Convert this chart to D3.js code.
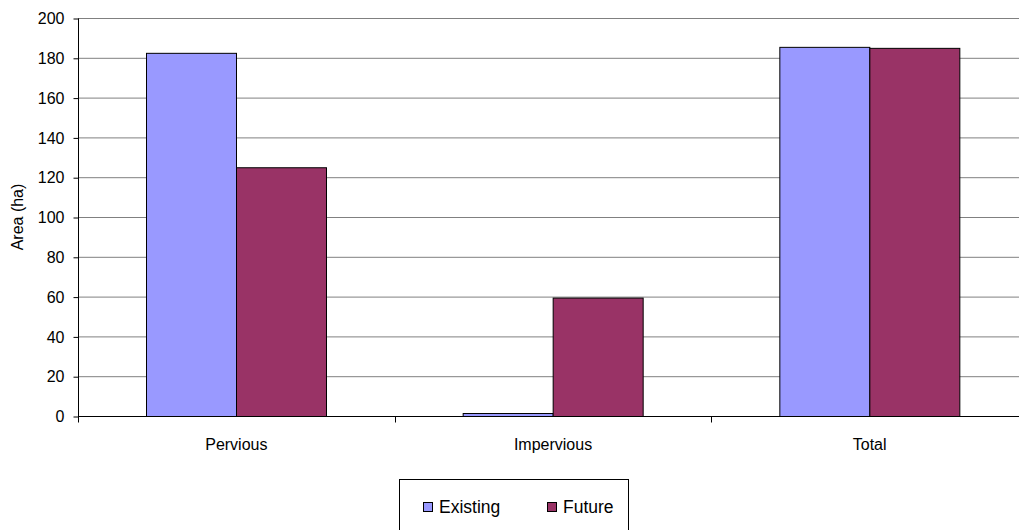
<!DOCTYPE html>
<html>
<head>
<meta charset="utf-8">
<script src="https://cdn.jsdelivr.net/npm/d3@7"></script>
<style>
  html, body { margin: 0; padding: 0; background: #fff; }
  svg { display: block; font-family: "Liberation Sans", Arial, sans-serif; }
</style>
</head>
<body>
<svg id="chart" width="1019" height="530"></svg>
<script>
// Land cover areas (ha)
const categories = ["Pervious", "Impervious", "Total"];
const seriesNames = ["Existing", "Future"];
const existing = [182.5, 1.5, 185.5];
const future = [125, 59.5, 185];
const yTicks = [0, 20, 40, 60, 80, 100, 120, 140, 160, 180, 200];
const colors = ["#9999FF", "#993366"];

const svg = d3.select("#chart");
const plotLeft = 78, plotTop = 18, plotRight = 1028, plotBottom = 416;
const fontFamily = "'Liberation Sans', Arial, sans-serif";

const x = d3.scaleBand().domain(categories).range([plotLeft, plotRight]).paddingInner(0).paddingOuter(0);
const xs = d3.scaleBand().domain(seriesNames).range([0, x.bandwidth()]).paddingInner(0).paddingOuter(0.76);
const y = d3.scaleLinear().domain([0, 200]).range([plotBottom, plotTop]);

// Horizontal gridlines
svg.append("g")
  .selectAll("line")
  .data(yTicks.filter(d => d > 0))
  .join("line")
  .attr("x1", plotLeft).attr("x2", plotRight)
  .attr("y1", d => y(d) + 0.5).attr("y2", d => y(d) + 0.5)
  .attr("stroke", "#808080").attr("stroke-width", 1);

// Bars
const rows = categories.map((c, i) => ({ cat: c, vals: [existing[i], future[i]] }));
svg.append("g")
  .selectAll("g")
  .data(rows)
  .join("g")
  .attr("transform", d => `translate(${x(d.cat)},0)`)
  .selectAll("rect")
  .data(d => d.vals.map((v, j) => ({ name: seriesNames[j], v, j })))
  .join("rect")
  .attr("x", d => Math.round(xs(d.name)) + 0.5)
  .attr("y", d => y(d.v) + 0.5)
  .attr("width", Math.round(xs.bandwidth()))
  .attr("height", d => y(0) - y(d.v))
  .attr("fill", d => colors[d.j])
  .attr("stroke", "#000")
  .attr("stroke-width", 1);

// Y axis
const yAxis = d3.axisLeft(y).tickValues(yTicks).tickSize(5).tickPadding(9);
const gy = svg.append("g").attr("transform", `translate(${plotLeft + 0.5},0.5)`).call(yAxis);
gy.select(".domain").attr("stroke", "#000").attr("d", `M0,${plotTop}V${plotBottom}`);
gy.selectAll(".tick line").attr("stroke", "#000");
gy.selectAll(".tick text").attr("font-size", 16).attr("fill", "#000")
  .attr("font-family", fontFamily);

// X axis
const xAxis = d3.axisBottom(x).tickSize(0).tickPadding(0).tickFormat(d => d);
const gx = svg.append("g").attr("transform", `translate(0,${plotBottom + 0.5})`).call(xAxis);
gx.select(".domain").attr("stroke", "#000").attr("d", `M${plotLeft},0H${plotRight}`);
gx.selectAll(".tick text").attr("font-size", 16).attr("fill", "#000").attr("dy", null)
  .attr("y", 33).attr("font-family", fontFamily);
// category boundary ticks
gx.append("g").selectAll("line")
  .data(categories.map(c => x(c)).concat([plotRight]))
  .join("line")
  .attr("x1", d => Math.round(d) + 0.5).attr("x2", d => Math.round(d) + 0.5)
  .attr("y1", 0).attr("y2", 6)
  .attr("stroke", "#000");

// Y axis title
svg.append("text")
  .attr("transform", "translate(23,217) rotate(-90)")
  .attr("text-anchor", "middle")
  .attr("font-size", 16)
  .text("Area (ha)");

// Legend
const lg = svg.append("g");
lg.append("rect").attr("x", 399.5).attr("y", 479.5).attr("width", 229).attr("height", 60)
  .attr("fill", "#fff").attr("stroke", "#000");
const legendX = [423, 547];
seriesNames.forEach((n, i) => {
  lg.append("rect").attr("x", legendX[i] + 0.5).attr("y", 502.5).attr("width", 9).attr("height", 9)
    .attr("fill", colors[i]).attr("stroke", "#000");
  lg.append("text").attr("x", legendX[i] + 16).attr("y", 513).attr("font-size", 17.5).text(n);
});
</script>
</body>
</html>
